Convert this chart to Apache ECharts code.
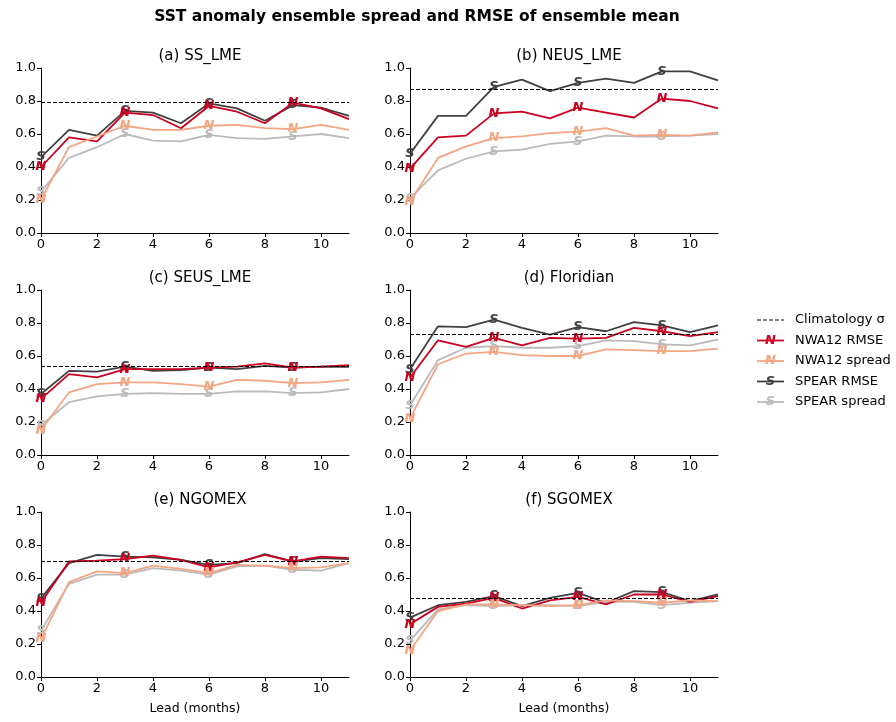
<!DOCTYPE html>
<html><head><meta charset="utf-8">
<script src="https://cdn.jsdelivr.net/npm/echarts@6/dist/echarts.min.js"></script>
<style>html,body{margin:0;padding:0;background:#fff}#c{width:896px;height:722px}</style>
</head><body><div id="c"></div>
<script>
const leads = [0,1,2,3,4,5,6,7,8,9,10,11];
const panelTitles = ['(a) SS_LME','(b) NEUS_LME','(c) SEUS_LME','(d) Floridian','(e) NGOMEX','(f) SGOMEX'];
const climatology = [0.785,0.87,0.535,0.73,0.70,0.485];
const nwaRmse = [
 [.40,.58,.555,.73,.715,.635,.77,.735,.665,.79,.755,.69],
 [.39,.58,.59,.725,.735,.695,.76,.73,.70,.815,.80,.755],
 [.34,.49,.47,.52,.52,.52,.53,.535,.555,.53,.535,.545],
 [.47,.695,.655,.71,.665,.71,.705,.71,.77,.75,.72,.745],
 [.45,.70,.705,.715,.735,.71,.665,.695,.74,.70,.73,.72],
 [.32,.425,.445,.48,.415,.465,.485,.44,.50,.50,.455,.49]];
const nwaSpread = [
 [.20,.52,.585,.65,.625,.625,.65,.655,.635,.63,.655,.625],
 [.19,.455,.525,.575,.585,.605,.615,.635,.59,.595,.59,.61],
 [.15,.38,.43,.44,.44,.43,.415,.455,.45,.435,.44,.455],
 [.22,.55,.615,.625,.605,.60,.60,.64,.635,.63,.63,.645],
 [.23,.575,.64,.63,.675,.655,.63,.68,.675,.66,.665,.69],
 [.16,.40,.44,.44,.435,.43,.435,.465,.46,.45,.465,.46]];
const spearRmse = [
 [.46,.625,.59,.74,.73,.665,.785,.755,.68,.775,.76,.71],
 [.48,.71,.71,.885,.93,.86,.91,.935,.91,.98,.98,.925],
 [.37,.51,.505,.535,.51,.515,.53,.52,.54,.53,.535,.535],
 [.52,.78,.775,.82,.77,.73,.775,.75,.805,.785,.745,.785],
 [.475,.69,.74,.73,.725,.71,.68,.69,.745,.70,.72,.715],
 [.36,.435,.455,.49,.43,.48,.51,.45,.52,.515,.46,.50]];
const spearSpread = [
 [.25,.455,.52,.60,.56,.555,.595,.575,.57,.585,.60,.575],
 [.21,.38,.45,.495,.505,.54,.555,.59,.585,.585,.59,.60],
 [.18,.32,.355,.37,.375,.37,.37,.385,.385,.375,.38,.40],
 [.30,.575,.65,.66,.65,.65,.66,.695,.69,.67,.665,.70],
 [.28,.565,.62,.62,.66,.645,.62,.67,.675,.65,.645,.69],
 [.22,.41,.435,.43,.435,.435,.43,.455,.455,.435,.45,.46]];
const seriesNames = ['NWA12 RMSE','NWA12 spread','SPEAR RMSE','SPEAR spread'];
const seriesLetters = ['N','N','S','S'];
const seriesColors = ['#ca0020','#f4a582','#404040','#bababa'];
const climName = 'Climatology σ';
const markIdx = [0,3,6,9];
const xLabel = 'Lead (months)';
const mainTitle = 'SST anomaly ensemble spread and RMSE of ensemble mean';

const lefts=[41,410], tops=[68,290,512], W=308, H=165;
const font='DejaVu Sans';
const grid=[],xAxis=[],yAxis=[],series=[],title=[{text:mainTitle,left:412,top:4,textAlign:'center',textStyle:{fontSize:15.5,fontWeight:'bold',color:'#000',fontFamily:font}}];
const allData=[nwaRmse,nwaSpread,spearRmse,spearSpread];
for(let p=0;p<6;p++){
  const l=lefts[p%2], t=tops[Math.floor(p/2)];
  grid.push({left:l,top:t,width:W,height:H});
  title.push({text:panelTitles[p],left:l+W/2,top:t-24,textAlign:'center',textStyle:{fontSize:15,fontWeight:'normal',color:'#000',fontFamily:font}});
  const bottomRow=p>=4;
  xAxis.push({gridIndex:p,type:'value',min:0,max:11,interval:2,splitLine:{show:false},
    axisLine:{lineStyle:{color:'#000',width:1}},axisTick:{length:4,lineStyle:{color:'#000'}},
    axisLabel:{color:'#000',fontSize:13,fontFamily:font,showMaxLabel:false,margin:5},
    name:bottomRow?xLabel:'',nameLocation:'middle',nameGap:25,nameTextStyle:{color:'#000',fontSize:12.5,fontFamily:font}});
  yAxis.push({gridIndex:p,type:'value',min:0,max:1,interval:0.2,splitLine:{show:false},
    axisLine:{show:true,lineStyle:{color:'#000',width:1}},axisTick:{show:true,length:4,lineStyle:{color:'#000'}},
    axisLabel:{color:'#000',fontSize:13,fontFamily:font,margin:5,formatter:v=>v.toFixed(1)}});
  series.push({type:'line',xAxisIndex:p,yAxisIndex:p,data:[],silent:true,
    markLine:{symbol:'none',silent:true,label:{show:false},lineStyle:{type:[4,2],color:'#000',width:1.2},data:[{yAxis:climatology[p]}]}});
  for(let s=0;s<4;s++){
    const d=allData[s][p].map((v,i)=>{
      const it={value:[leads[i],v]};
      if(markIdx.includes(i)) it.label={show:true,formatter:seriesLetters[s],position:[0,0],align:'center',verticalAlign:'middle',color:seriesColors[s],fontSize:13,fontWeight:'bold',fontStyle:'italic',fontFamily:font};
      return it;});
    series.push({type:'line',name:seriesNames[s],xAxisIndex:p,yAxisIndex:p,data:d,symbol:'circle',symbolSize:0.1,showSymbol:true,z:3+(s<2?1:0),
      lineStyle:{color:seriesColors[s],width:1.8},itemStyle:{color:seriesColors[s]},label:{show:false},labelLayout:{hideOverlap:false}});
  }
}
const graphic=[];
const lx=757, ly=320, dy=20.5;
graphic.push({type:'line',shape:{x1:lx,y1:ly,x2:lx+27,y2:ly},style:{stroke:'#000',lineWidth:1.2,lineDash:[4,2]}});
graphic.push({type:'text',x:lx+38,y:ly,style:{text:climName,fill:'#000',font:'13px DejaVu Sans',textVerticalAlign:'middle'}});
for(let s=0;s<4;s++){
  const y=ly+dy*(s+1);
  graphic.push({type:'line',shape:{x1:lx,y1:y,x2:lx+27,y2:y},style:{stroke:seriesColors[s],lineWidth:1.8}});
  graphic.push({type:'text',x:lx+13.5,y:y,style:{text:seriesLetters[s],fill:seriesColors[s],font:'italic bold 13px DejaVu Sans',textAlign:'center',textVerticalAlign:'middle'}});
  graphic.push({type:'text',x:lx+38,y:y,style:{text:seriesNames[s],fill:'#000',font:'13px DejaVu Sans',textVerticalAlign:'middle'}});
}
const chart=echarts.init(document.getElementById('c'));
chart.setOption({animation:false,backgroundColor:'#fff',title,grid,xAxis,yAxis,series,graphic});
</script></body></html>
